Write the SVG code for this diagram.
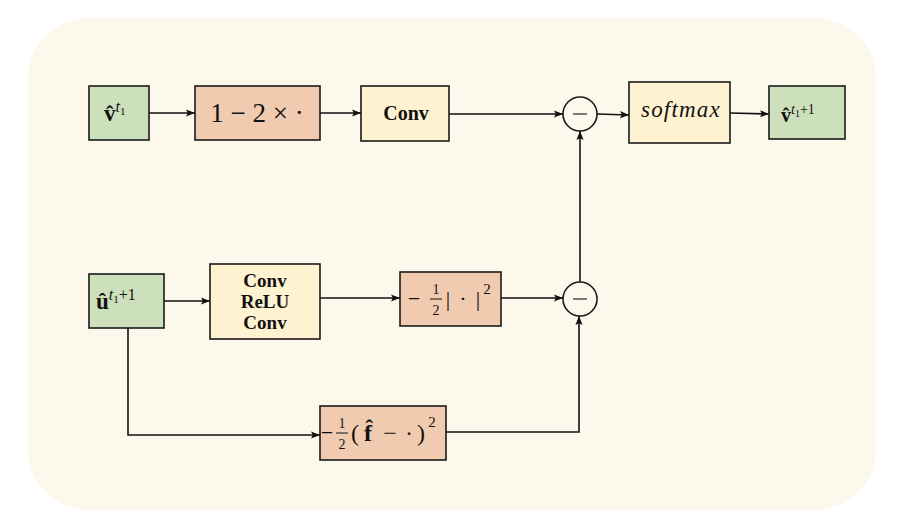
<svg xmlns="http://www.w3.org/2000/svg" width="898" height="532" viewBox="0 0 898 532">
<defs>
<marker id="ah" viewBox="0 0 10 10" refX="10" refY="5" markerWidth="9" markerHeight="9" markerUnits="userSpaceOnUse" orient="auto">
<path d="M0,1 L10,5 L0,9 L2,5 z" fill="#111"/>
</marker>
<style>
.bx{stroke:#1a1a1a;stroke-width:1.6}
.g{fill:#cde0bc}.s{fill:#f1cbb0}.y{fill:#fff2d1}
.t{font-family:"Liberation Serif","DejaVu Serif",serif;fill:#111;text-anchor:middle}
.l{text-anchor:start}
.b{font-weight:bold}
.i{font-style:italic}
.c{fill:none;stroke:#111;stroke-width:1.6}
.ar{marker-end:url(#ah)}
.circ{fill:#fdf8ec;stroke:#1a1a1a;stroke-width:1.6}
</style>
</defs>
<rect x="28" y="18" width="848" height="492" rx="60" fill="#fdf8ec"/>
<g id="connectors">
<line class="c ar" x1="149" y1="113" x2="195" y2="113"/>
<line class="c ar" x1="320" y1="113" x2="361" y2="113"/>
<line class="c ar" x1="449" y1="114" x2="563" y2="114"/>
<line class="c ar" x1="597" y1="114" x2="629" y2="115"/>
<line class="c ar" x1="730" y1="113" x2="769" y2="114"/>
<line class="c ar" x1="164" y1="301" x2="210" y2="301"/>
<line class="c ar" x1="320" y1="298" x2="400" y2="298"/>
<line class="c ar" x1="501" y1="298" x2="563" y2="298"/>
<line class="c ar" x1="580" y1="282" x2="580" y2="131"/>
<polyline class="c ar" points="128,328 128,435 320,435"/>
<polyline class="c ar" points="446,432 579,432 579,316"/>
</g>
<g id="v_t1">
<rect class="bx g" x="89" y="86" width="60" height="54"/>
<text class="t l" x="104" y="121" font-size="23"><tspan class="b">v̂</tspan><tspan class="i" font-size="16" dy="-9">t</tspan><tspan font-size="11" dy="3">1</tspan></text>
</g>
<g id="one_minus">
<rect class="bx s" x="195" y="86" width="125" height="54"/>
<text class="t" x="257" y="122" font-size="27">1 − 2 × ·</text>
</g>
<g id="conv_top">
<rect class="bx y" x="361" y="86" width="88" height="55"/>
<text class="t b" x="406" y="120" font-size="20">Conv</text>
</g>
<g id="minus_top">
<circle class="circ" cx="580" cy="114" r="17"/>
<line x1="573" y1="114" x2="587" y2="114" stroke="#333" stroke-width="1.3"/>
</g>
<g id="minus_bottom">
<circle class="circ" cx="580" cy="299" r="17"/>
<line x1="573" y1="299" x2="587" y2="299" stroke="#333" stroke-width="1.3"/>
</g>
<g id="softmax">
<rect class="bx y" x="629" y="82" width="101" height="61"/>
<text class="t i" x="681" y="117" font-size="23" letter-spacing="1.2">softmax</text>
</g>
<g id="v_t1p1">
<rect class="bx g" x="769" y="86" width="76" height="53"/>
<text class="t l" x="781" y="122" font-size="20"><tspan class="b">v̂</tspan><tspan class="i" font-size="14" dy="-8">t</tspan><tspan font-size="10" dy="3">1</tspan><tspan font-size="14" dy="-3">+1</tspan></text>
</g>
<g id="u_t1p1">
<rect class="bx g" x="89" y="274" width="75" height="54"/>
<text class="t l" x="96" y="309" font-size="23"><tspan class="b">û</tspan><tspan class="i" font-size="16" dy="-9">t</tspan><tspan font-size="11" dy="3">1</tspan><tspan font-size="16" dy="-3">+1</tspan></text>
</g>
<g id="conv_relu_conv">
<rect class="bx y" x="210" y="264" width="110" height="75"/>
<text class="t b" x="265" y="287" font-size="19">Conv</text>
<text class="t b" x="265" y="308" font-size="19">ReLU</text>
<text class="t b" x="265" y="329" font-size="19">Conv</text>
</g>
<g id="neg_half_norm">
<rect class="bx s" x="400" y="272" width="101" height="54"/>
<text class="t" x="414" y="306" font-size="22">−</text>
<text class="t" x="436" y="294" font-size="14">1</text>
<line x1="430" y1="299" x2="442" y2="299" stroke="#111" stroke-width="1"/>
<text class="t" x="436" y="315" font-size="14">2</text>
<text class="t" x="448" y="306" font-size="22">|</text>
<text class="t" x="463" y="306" font-size="22">·</text>
<text class="t" x="478" y="306" font-size="22">|</text>
<text class="t" x="487" y="294" font-size="15">2</text>
</g>
<g id="half_sq">
<rect class="bx s" x="320" y="406" width="126" height="54"/>
<text class="t" x="327" y="440" font-size="22">−</text>
<text class="t" x="342" y="428" font-size="14">1</text>
<line x1="336" y1="433" x2="348" y2="433" stroke="#111" stroke-width="1"/>
<text class="t" x="342" y="449" font-size="14">2</text>
<text class="t" x="355" y="441" font-size="24">(</text>
<text class="t b" x="368" y="441" font-size="24">f̂</text>
<text class="t" x="390" y="441" font-size="24">−</text>
<text class="t" x="409" y="441" font-size="24">·</text>
<text class="t" x="421" y="441" font-size="24">)</text>
<text class="t" x="432" y="427" font-size="15">2</text>
</g>
</svg>
